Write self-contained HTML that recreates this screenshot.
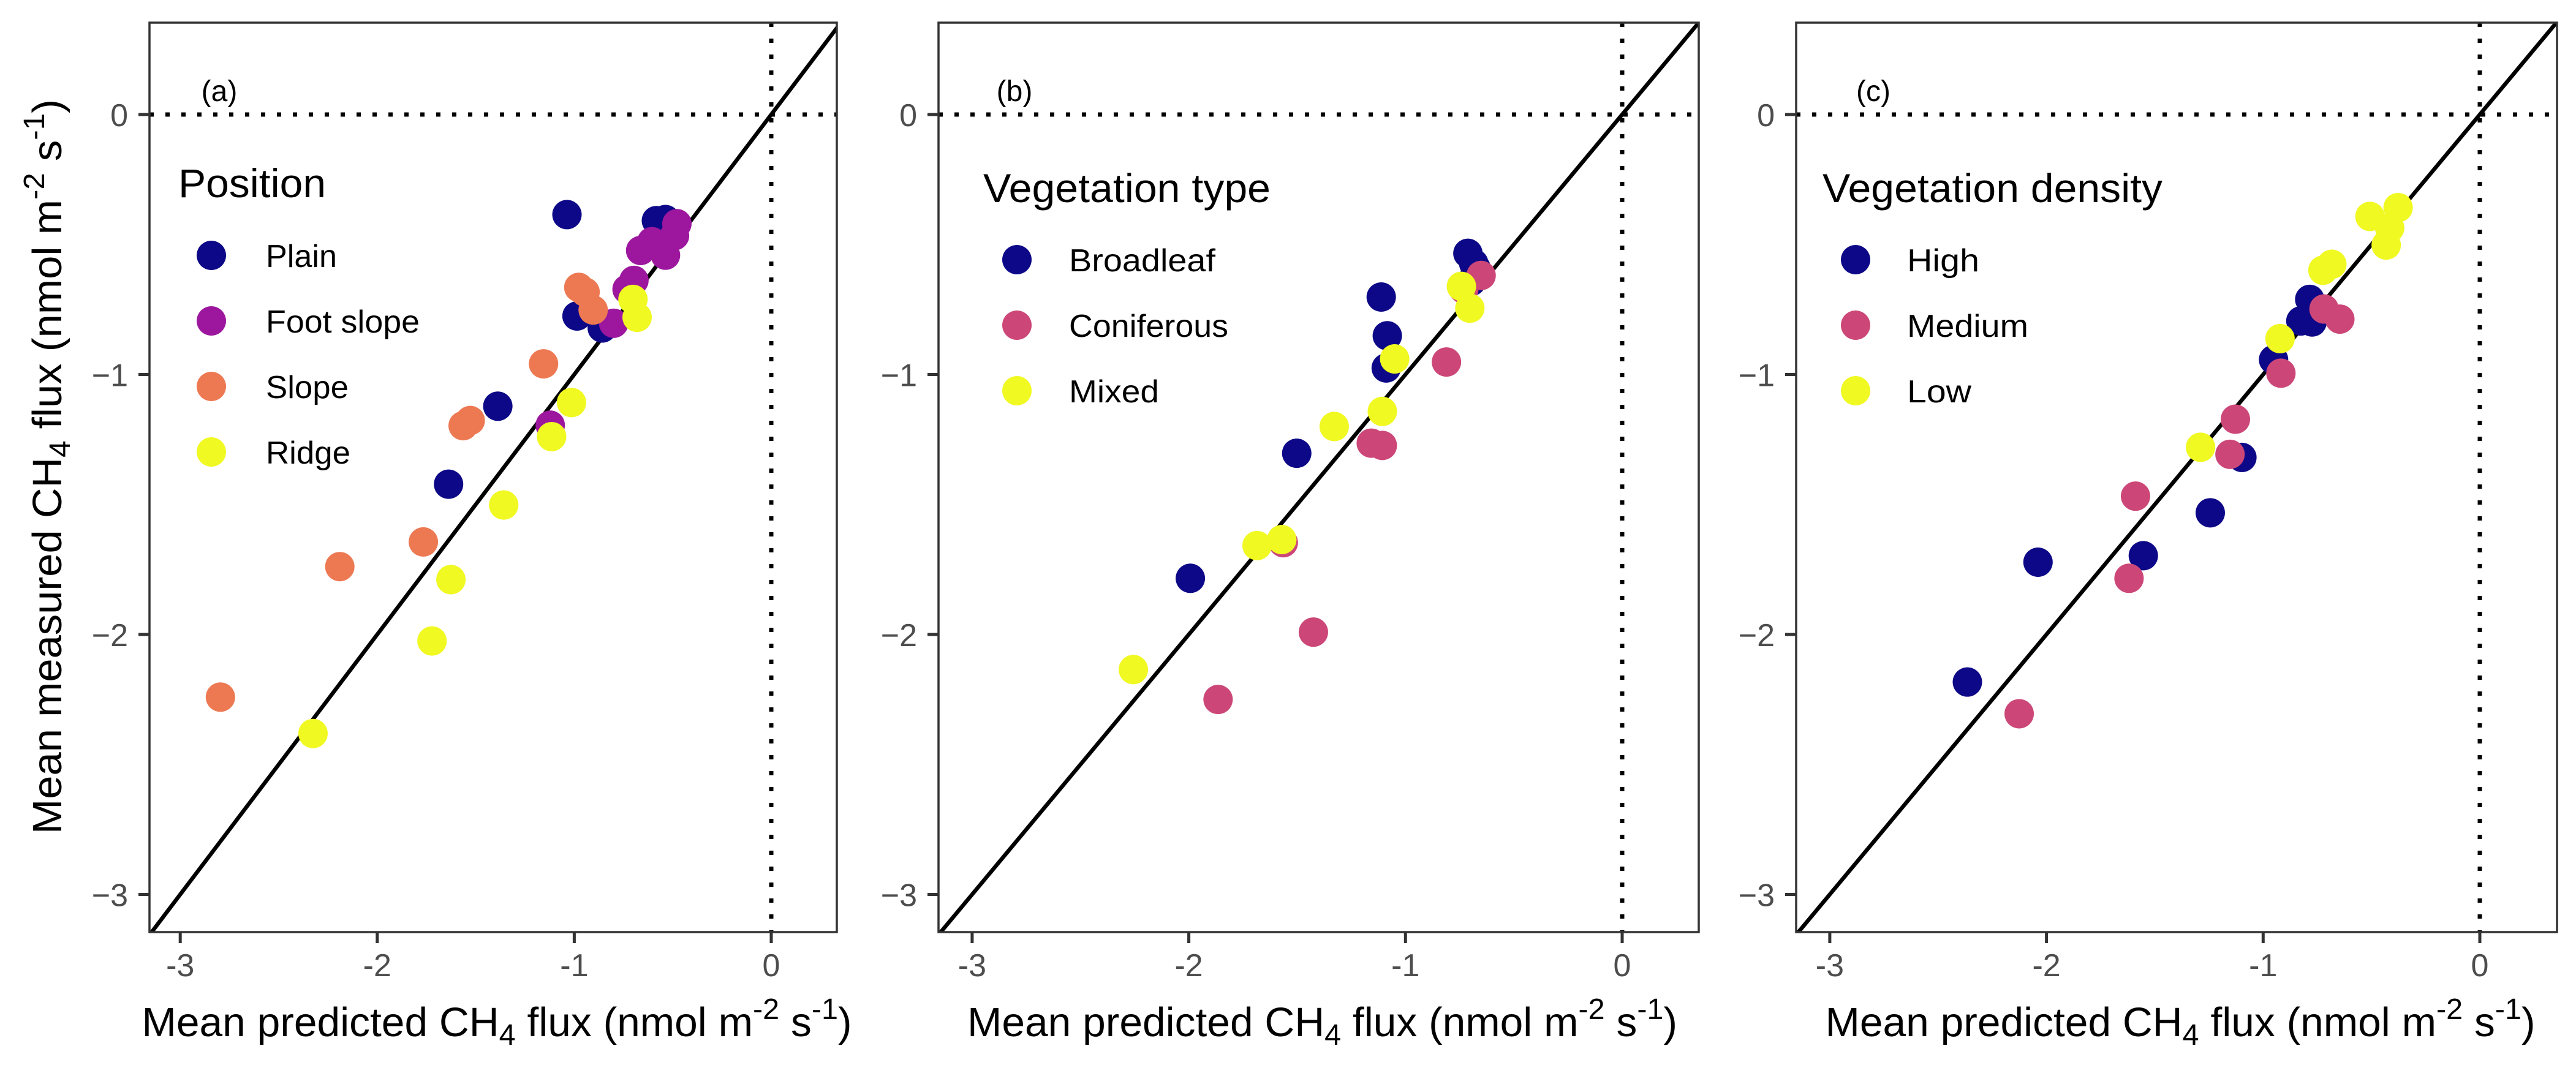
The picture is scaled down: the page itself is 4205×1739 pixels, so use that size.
<!DOCTYPE html>
<html><head><meta charset="utf-8"><style>
html,body{margin:0;padding:0;background:#fff;overflow:hidden;width:4205px;height:1739px}
svg{display:block;font-family:"Liberation Sans",Arial,sans-serif}
</style></head><body>
<svg id="chart" width="4205" height="1739" viewBox="0 0 4205 1739" xmlns="http://www.w3.org/2000/svg">
<text transform="translate(100,762) rotate(-90)" text-anchor="middle" font-size="67" fill="#000" textLength="1200" lengthAdjust="spacingAndGlyphs">Mean measured CH<tspan baseline-shift="-14" font-size="48">4</tspan> flux (nmol m<tspan baseline-shift="28" font-size="48">-2</tspan> s<tspan baseline-shift="28" font-size="48">-1</tspan>)</text>
</svg>
<script>
// Panel (a) Position
const posPlainX=[-1.037,-0.583,-0.537,-0.525,-0.986,-0.858,-1.388,-1.638];
const posPlainY=[-0.385,-0.408,-0.404,-0.454,-0.775,-0.821,-1.122,-1.422];
const posFootX=[-0.479,-0.491,-0.537,-0.663,-0.606,-0.697,-0.732,-0.8,-1.122];
const posFootY=[-0.42,-0.466,-0.541,-0.523,-0.489,-0.638,-0.672,-0.803,-1.195];
const posSlopeX=[-0.977,-0.945,-0.904,-1.156,-1.528,-1.564,-1.766,-2.19,-2.796];
const posSlopeY=[-0.665,-0.683,-0.752,-0.959,-1.177,-1.197,-1.644,-1.739,-2.241];
const posRidgeX=[-0.702,-0.681,-1.014,-1.115,-1.358,-1.626,-1.722,-2.326];
const posRidgeY=[-0.711,-0.78,-1.108,-1.239,-1.502,-1.789,-2.025,-2.381];
// Panel (b) Vegetation type
const vtBroadX=[-0.712,-0.685,-0.674,-0.696,-1.112,-1.084,-1.089,-1.502,-1.993];
const vtBroadY=[-0.534,-0.573,-0.592,-0.642,-0.702,-0.851,-0.975,-1.303,-1.784];
const vtConX=[-0.651,-0.731,-0.811,-1.158,-1.107,-1.564,-1.425,-1.865];
const vtConY=[-0.619,-0.672,-0.952,-1.264,-1.273,-1.647,-1.991,-2.25];
const vtMixX=[-0.742,-0.703,-1.05,-1.107,-1.329,-1.571,-1.685,-2.256];
const vtMixY=[-0.661,-0.745,-0.94,-1.142,-1.2,-1.635,-1.658,-2.135];
// Panel (c) Vegetation density
const vdHighX=[-0.785,-0.826,-0.774,-0.952,-1.098,-1.244,-1.553,-2.039,-2.365];
const vdHighY=[-0.711,-0.794,-0.798,-0.943,-1.319,-1.532,-1.697,-1.722,-2.183];
const vdMedX=[-0.719,-0.646,-0.918,-1.128,-1.153,-1.589,-1.619,-2.126];
const vdMedY=[-0.748,-0.787,-0.995,-1.172,-1.307,-1.468,-1.784,-2.305];
const vdLowX=[-0.377,-0.507,-0.416,-0.432,-0.683,-0.724,-0.922,-1.289];
const vdLowY=[-0.358,-0.392,-0.436,-0.502,-0.576,-0.599,-0.862,-1.28];
const xTicks=[-3,-2,-1,0];
const yTicks=[0,-1,-2,-3];
const tickLabels=["-3","-2","-1","0"];

const NS="http://www.w3.org/2000/svg";
const svg=document.getElementById('chart');
function mk(tag,attrs,parent){const e=document.createElementNS(NS,tag);for(const k in attrs)e.setAttribute(k,attrs[k]);(parent||svg).appendChild(e);return e;}

const panels=[
 {id:'a',left:244,right:1366,x0px:1259,unit:321.6,label:'(a)',labelX:358,legendTitle:'Position',titleW:241,titleX:291,keyX:345,textX:434,keyY0:417,
  series:[['Plain','#0d0887',posPlainX,posPlainY,116],['Foot slope','#9c179e',posFootX,posFootY,251],['Slope','#ed7953',posSlopeX,posSlopeY,135],['Ridge','#f0f921',posRidgeX,posRidgeY,138]]},
 {id:'b',left:1532,right:2773,x0px:2648,unit:353.7,label:'(b)',labelX:1656,legendTitle:'Vegetation type',titleW:469,titleX:1605,keyX:1660,textX:1745,keyY0:424,
  series:[['Broadleaf','#0d0887',vtBroadX,vtBroadY,239],['Coniferous','#cc4778',vtConX,vtConY,260],['Mixed','#f0f921',vtMixX,vtMixY,147]]},
 {id:'c',left:2932,right:4174,x0px:4048,unit:353.7,label:'(c)',labelX:3058,legendTitle:'Vegetation density',titleW:555,titleX:2975,keyX:3029,textX:3113,keyY0:424,
  series:[['High','#0d0887',vdHighX,vdHighY,118],['Medium','#cc4778',vdMedX,vdMedY,198],['Low','#f0f921',vdLowX,vdLowY,105]]}
];
const TOP=37,BOTTOM=1522,Y0=187,YU=424.5;
function sy(v){return Y0-v*YU;}

panels.forEach(p=>{
 const sx=v=>p.x0px+v*p.unit;
 const g=mk('g',{});
 
 
 const clipId='clip-'+p.id;
 const cp=mk('clipPath',{id:clipId},g);
 mk('rect',{x:p.left,y:TOP,width:p.right-p.left,height:BOTTOM-TOP},cp);
 const plot=mk('g',{'clip-path':'url(#'+clipId+')'},g);
 const hz=mk('line',{x1:p.left,x2:p.right,y1:sy(0),y2:sy(0),stroke:'#000','stroke-width':7,'stroke-dasharray':'7 19'},plot);
 
 
 const vt=mk('line',{x1:sx(0),x2:sx(0),y1:TOP,y2:BOTTOM,stroke:'#000','stroke-width':7,'stroke-dasharray':'7 19'},plot);
 
 
 const lo=-4,hi=1;
 const d=mk('line',{x1:sx(lo),y1:sy(lo),x2:sx(hi),y2:sy(hi),stroke:'#000','stroke-width':6.5},plot);
 
 
 p.series.forEach(s=>{
  const [nm,col,xs,ys]=s;
  xs.forEach((xv,i)=>{
   const c=mk('circle',{cx:sx(xv),cy:sy(ys[i]),r:24,fill:col},plot);
   
   
  });
 });
 const b=mk('rect',{x:p.left,y:TOP,width:p.right-p.left,height:BOTTOM-TOP,fill:'none',stroke:'#333','stroke-width':3.5},g);
 
 
 xTicks.forEach((t,i)=>{
  mk('line',{x1:sx(t),x2:sx(t),y1:BOTTOM,y2:BOTTOM+18,stroke:'#333','stroke-width':5},g);
  const tl=mk('text',{x:sx(t),y:1594,'text-anchor':'middle','font-size':52,fill:'#4d4d4d'},g);
  tl.textContent=tickLabels[i];
  
  
 });
 yTicks.forEach((t,i)=>{
  mk('line',{x1:p.left-18,x2:p.left,y1:sy(t),y2:sy(t),stroke:'#333','stroke-width':5},g);
  const tl=mk('text',{x:p.left-35,y:sy(t)+19,'text-anchor':'end','font-size':52,fill:'#4d4d4d'},g);
  tl.textContent=String(t).replace('-','\u2212');
  
  
 });
 const pl=mk('text',{x:p.labelX,y:165,'text-anchor':'middle','font-size':48,fill:'#000'},g);
 pl.textContent=p.label;
 
 
 const lt=mk('text',{x:p.titleX,y:p.id==='a'?322:330,'font-size':66,fill:'#000',textLength:p.titleW,lengthAdjust:'spacingAndGlyphs'},g);
 lt.textContent=p.legendTitle;
 
 
 p.series.forEach((s,i)=>{
  const ky=p.keyY0+i*107;
  const k=mk('circle',{cx:p.keyX,cy:ky,r:24,fill:s[1]},g);
  
  
  const tx=mk('text',{x:p.textX,y:ky+19,'font-size':52,fill:'#000',textLength:s[4],lengthAdjust:'spacingAndGlyphs'},g);
  tx.textContent=s[0];
  
  
 });
 const xt=mk('text',{x:(p.left+p.right)/2+6,y:1692,'text-anchor':'middle','font-size':67,fill:'#000',textLength:1159,lengthAdjust:'spacingAndGlyphs'},g);
 xt.innerHTML='Mean predicted CH<tspan baseline-shift="-14" font-size="48">4</tspan> flux (nmol m<tspan baseline-shift="28" font-size="48">-2</tspan> s<tspan baseline-shift="28" font-size="48">-1</tspan>)';
 
 
});
</script>
</body></html>
